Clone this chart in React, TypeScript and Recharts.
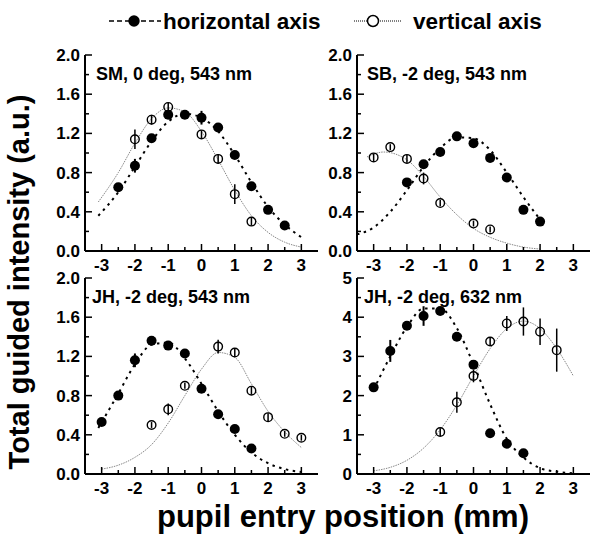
import { ComposedChart, Line, Scatter, XAxis, YAxis, ErrorBar } from "recharts";

type Pt = { x: number; y: number; e: number };
type FitPt = { x: number; y: number };

const X_TICKS = [-3, -2.5, -2, -1.5, -1, -0.5, 0, 0.5, 1, 1.5, 2, 2.5, 3];
const Y_TICKS_2 = [0, 0.2, 0.4, 0.6, 0.8, 1, 1.2, 1.4, 1.6, 1.8, 2];
const Y_TICKS_5 = [0, 0.5, 1, 1.5, 2, 2.5, 3, 3.5, 4, 4.5, 5];

const PANEL_TITLES = [
  "SM, 0 deg, 543 nm",
  "SB, -2 deg, 543 nm",
  "JH, -2 deg, 543 nm",
  "JH, -2 deg, 632 nm",
];

// SM, 0 deg, 543 nm
const smHoriz: Pt[] = [
  { x: -2.5, y: 0.65, e: 0.02 },
  { x: -2, y: 0.87, e: 0.07 },
  { x: -1.5, y: 1.15, e: 0.02 },
  { x: -1, y: 1.39, e: 0.02 },
  { x: -0.5, y: 1.39, e: 0.02 },
  { x: 0, y: 1.36, e: 0.07 },
  { x: 0.5, y: 1.26, e: 0.02 },
  { x: 1, y: 0.98, e: 0.02 },
  { x: 1.5, y: 0.66, e: 0.02 },
  { x: 2, y: 0.42, e: 0.02 },
  { x: 2.5, y: 0.26, e: 0.02 },
];
const smVert: Pt[] = [
  { x: -2, y: 1.14, e: 0.1 },
  { x: -1.5, y: 1.34, e: 0.05 },
  { x: -1, y: 1.47, e: 0.04 },
  { x: 0, y: 1.19, e: 0.04 },
  { x: 0.5, y: 0.94, e: 0.05 },
  { x: 1, y: 0.58, e: 0.1 },
  { x: 1.5, y: 0.3, e: 0.04 },
];
const smHorizFit: FitPt[] = [
  { x: -3.1, y: 0.36 }, { x: -2.5, y: 0.6 }, { x: -2, y: 0.86 }, { x: -1.5, y: 1.12 },
  { x: -1, y: 1.32 }, { x: -0.5, y: 1.4 }, { x: 0, y: 1.36 }, { x: 0.5, y: 1.22 },
  { x: 1, y: 0.98 }, { x: 1.5, y: 0.7 }, { x: 2, y: 0.45 }, { x: 2.5, y: 0.27 }, { x: 3, y: 0.14 },
];
const smVertFit: FitPt[] = [
  { x: -3.1, y: 0.5 }, { x: -2.5, y: 0.8 }, { x: -2, y: 1.1 }, { x: -1.5, y: 1.35 },
  { x: -1, y: 1.46 }, { x: -0.5, y: 1.42 }, { x: 0, y: 1.22 }, { x: 0.5, y: 0.93 },
  { x: 1, y: 0.62 }, { x: 1.5, y: 0.36 }, { x: 2, y: 0.19 }, { x: 2.5, y: 0.09 }, { x: 3, y: 0.04 },
];

// SB, -2 deg, 543 nm
const sbHoriz: Pt[] = [
  { x: -2, y: 0.7, e: 0.02 },
  { x: -1.5, y: 0.885, e: 0.02 },
  { x: -1, y: 1.01, e: 0.02 },
  { x: -0.5, y: 1.17, e: 0.02 },
  { x: 0, y: 1.1, e: 0.02 },
  { x: 0.5, y: 0.95, e: 0.02 },
  { x: 1, y: 0.75, e: 0.02 },
  { x: 1.5, y: 0.42, e: 0.02 },
  { x: 2, y: 0.3, e: 0.02 },
];
const sbVert: Pt[] = [
  { x: -3, y: 0.955, e: 0.04 },
  { x: -2.5, y: 1.06, e: 0.03 },
  { x: -2, y: 0.94, e: 0.04 },
  { x: -1.5, y: 0.74, e: 0.06 },
  { x: -1, y: 0.49, e: 0.03 },
  { x: 0, y: 0.28, e: 0.03 },
  { x: 0.5, y: 0.22, e: 0.03 },
];
const sbHorizFit: FitPt[] = [
  { x: -3.5, y: 0.17 }, { x: -3, y: 0.24 }, { x: -2.5, y: 0.4 }, { x: -2, y: 0.62 },
  { x: -1.5, y: 0.86 }, { x: -1, y: 1.05 }, { x: -0.5, y: 1.16 }, { x: 0, y: 1.15 },
  { x: 0.5, y: 1.03 }, { x: 1, y: 0.8 }, { x: 1.5, y: 0.55 }, { x: 2, y: 0.32 },
];
const sbVertFit: FitPt[] = [
  { x: -3.2, y: 0.96 }, { x: -2.7, y: 1.01 }, { x: -2, y: 0.93 }, { x: -1.5, y: 0.76 },
  { x: -1, y: 0.55 }, { x: -0.5, y: 0.37 }, { x: 0, y: 0.23 }, { x: 0.5, y: 0.14 },
  { x: 1, y: 0.08 }, { x: 1.5, y: 0.04 }, { x: 2, y: 0.02 },
];

// JH, -2 deg, 543 nm
const jh543Horiz: Pt[] = [
  { x: -3, y: 0.53, e: 0.02 },
  { x: -2.5, y: 0.8, e: 0.02 },
  { x: -2, y: 1.16, e: 0.07 },
  { x: -1.5, y: 1.36, e: 0.02 },
  { x: -1, y: 1.31, e: 0.02 },
  { x: -0.5, y: 1.23, e: 0.02 },
  { x: 0, y: 0.87, e: 0.02 },
  { x: 0.5, y: 0.61, e: 0.02 },
  { x: 1, y: 0.46, e: 0.02 },
  { x: 1.5, y: 0.26, e: 0.02 },
];
const jh543Vert: Pt[] = [
  { x: -1.5, y: 0.5, e: 0.03 },
  { x: -1, y: 0.66, e: 0.06 },
  { x: -0.5, y: 0.9, e: 0.03 },
  { x: 0.5, y: 1.3, e: 0.07 },
  { x: 1, y: 1.24, e: 0.04 },
  { x: 1.5, y: 0.85, e: 0.04 },
  { x: 2, y: 0.58, e: 0.04 },
  { x: 2.5, y: 0.41, e: 0.03 },
  { x: 3, y: 0.37, e: 0.03 },
];
const jh543HorizFit: FitPt[] = [
  { x: -3.1, y: 0.47 }, { x: -2.5, y: 0.82 }, { x: -2, y: 1.12 }, { x: -1.5, y: 1.32 },
  { x: -1, y: 1.34 }, { x: -0.5, y: 1.18 }, { x: 0, y: 0.92 }, { x: 0.5, y: 0.64 },
  { x: 1, y: 0.4 }, { x: 1.5, y: 0.22 }, { x: 2, y: 0.11 }, { x: 2.5, y: 0.05 }, { x: 3, y: 0.02 },
];
const jh543VertFit: FitPt[] = [
  { x: -3, y: 0.05 }, { x: -2.5, y: 0.09 }, { x: -2, y: 0.17 }, { x: -1.5, y: 0.3 },
  { x: -1, y: 0.52 }, { x: -0.5, y: 0.8 }, { x: 0, y: 1.07 }, { x: 0.5, y: 1.24 },
  { x: 1, y: 1.19 }, { x: 1.5, y: 0.92 }, { x: 2, y: 0.64 }, { x: 2.5, y: 0.43 }, { x: 3, y: 0.27 },
];

// JH, -2 deg, 632 nm
const jh632Horiz: Pt[] = [
  { x: -3, y: 2.21, e: 0.05 },
  { x: -2.5, y: 3.14, e: 0.28 },
  { x: -2, y: 3.78, e: 0.08 },
  { x: -1.5, y: 4.03, e: 0.25 },
  { x: -1, y: 4.16, e: 0.05 },
  { x: -0.5, y: 3.5, e: 0.05 },
  { x: 0, y: 2.79, e: 0.05 },
  { x: 0.5, y: 1.04, e: 0.05 },
  { x: 1, y: 0.77, e: 0.05 },
  { x: 1.5, y: 0.53, e: 0.05 },
];
const jh632Vert: Pt[] = [
  { x: -1, y: 1.07, e: 0.1 },
  { x: -0.5, y: 1.83, e: 0.27 },
  { x: 0, y: 2.5, e: 0.16 },
  { x: 0.5, y: 3.38, e: 0.1 },
  { x: 1, y: 3.84, e: 0.19 },
  { x: 1.5, y: 3.89, e: 0.36 },
  { x: 2, y: 3.63, e: 0.34 },
  { x: 2.5, y: 3.16, e: 0.55 },
];
const jh632HorizFit: FitPt[] = [
  { x: -3, y: 2.15 }, { x: -2.5, y: 3.0 }, { x: -2, y: 3.75 }, { x: -1.5, y: 4.22 },
  { x: -1, y: 4.22 }, { x: -0.5, y: 3.72 }, { x: 0, y: 2.8 }, { x: 0.5, y: 1.78 },
  { x: 1, y: 0.9 }, { x: 1.5, y: 0.42 }, { x: 2, y: 0.15 }, { x: 2.5, y: 0.06 }, { x: 3, y: 0.02 },
];
const jh632VertFit: FitPt[] = [
  { x: -3, y: 0.08 }, { x: -2.5, y: 0.17 }, { x: -2, y: 0.35 }, { x: -1.5, y: 0.66 },
  { x: -1, y: 1.13 }, { x: -0.5, y: 1.76 }, { x: 0, y: 2.5 }, { x: 0.5, y: 3.2 },
  { x: 1, y: 3.71 }, { x: 1.5, y: 3.9 }, { x: 2, y: 3.71 }, { x: 2.5, y: 3.2 }, { x: 3, y: 2.5 },
];

const FONT = "'Liberation Sans', Arial, Helvetica, sans-serif";
const BOX_W = 233;
const BOX_H = 196;
const AXIS_W = 50;
const PAD = 10;

const isMultiple = (v: number, step: number) =>
  Math.abs(v / step - Math.round(v / step)) < 1e-6;

function BottomTick(props: any) {
  const { x, y, payload } = props;
  const v = payload.value;
  const major = isMultiple(v, 1);
  return (
    <g>
      <line x1={x} x2={x} y1={y} y2={y - (major ? 7 : 4)} stroke="#000" strokeWidth={1.5} />
      {major && (
        <text x={x} y={y + 20} textAnchor="middle" fontSize={17} fontWeight="bold" fill="#000">
          {v}
        </text>
      )}
    </g>
  );
}

function TopTick(props: any) {
  const { x, y, payload } = props;
  const major = isMultiple(payload.value, 1);
  return <line x1={x} x2={x} y1={y} y2={y + (major ? 7 : 4)} stroke="#000" strokeWidth={1.5} />;
}

function LeftTick(props: any) {
  const { x, y, payload, step, digits } = props;
  const v = payload.value;
  const major = isMultiple(v, step);
  return (
    <g>
      <line x1={x} x2={x + (major ? 7 : 4)} y1={y} y2={y} stroke="#000" strokeWidth={1.5} />
      {major && (
        <text x={x - 5} y={y + 6} textAnchor="end" fontSize={17} fontWeight="bold" fill="#000">
          {v.toFixed(digits)}
        </text>
      )}
    </g>
  );
}

function RightTick(props: any) {
  const { x, y, payload, step } = props;
  const major = isMultiple(payload.value, step);
  return <line x1={x} x2={x - (major ? 7 : 4)} y1={y} y2={y} stroke="#000" strokeWidth={1.5} />;
}

const FilledDot = (p: any) => <circle cx={p.cx} cy={p.cy} r={5} fill="#000" />;
const OpenDot = (p: any) => (
  <circle cx={p.cx} cy={p.cy} r={4.3} fill="none" stroke="#000" strokeWidth={1.4} />
);

interface PanelProps {
  left: number;
  top: number;
  title: string;
  titleDx: number;
  yMax: number;
  yTicks: number[];
  labelStep: number;
  digits: number;
  horiz: Pt[];
  vert: Pt[];
  horizFit: FitPt[];
  vertFit: FitPt[];
}

function Panel(p: PanelProps) {
  const axisLine = { stroke: "#000", strokeWidth: 2 };
  return (
    <div style={{ position: "absolute", left: p.left - AXIS_W, top: p.top - PAD }}>
      <ComposedChart
        width={AXIS_W + BOX_W + PAD}
        height={PAD + BOX_H + 30}
        margin={{ top: PAD, right: PAD, bottom: 0, left: 0 }}
      >
        <XAxis
          dataKey="x"
          type="number"
          domain={[-3.5, 3.5]}
          allowDataOverflow
          ticks={X_TICKS}
          interval={0}
          height={30}
          tickSize={0}
          tickMargin={0}
          tickLine={false}
          axisLine={axisLine}
          tick={(t: any) => <BottomTick {...t} />}
        />
        <XAxis
          xAxisId="top"
          orientation="top"
          dataKey="x"
          type="number"
          domain={[-3.5, 3.5]}
          allowDataOverflow
          ticks={X_TICKS}
          interval={0}
          height={0}
          tickSize={0}
          tickMargin={0}
          tickLine={false}
          axisLine={axisLine}
          tick={(t: any) => <TopTick {...t} />}
        />
        <YAxis
          dataKey="y"
          type="number"
          domain={[0, p.yMax]}
          allowDataOverflow
          ticks={p.yTicks}
          interval={0}
          width={AXIS_W}
          tickSize={0}
          tickMargin={0}
          tickLine={false}
          axisLine={axisLine}
          tick={(t: any) => <LeftTick {...t} step={p.labelStep} digits={p.digits} />}
        />
        <YAxis
          yAxisId="right"
          orientation="right"
          dataKey="y"
          type="number"
          domain={[0, p.yMax]}
          allowDataOverflow
          ticks={p.yTicks}
          interval={0}
          width={0}
          tickSize={0}
          tickMargin={0}
          tickLine={false}
          axisLine={axisLine}
          tick={(t: any) => <RightTick {...t} step={p.labelStep} />}
        />
        <Line
          data={p.vertFit}
          dataKey="y"
          type="monotone"
          stroke="#888"
          strokeWidth={1}
          strokeDasharray="1.5 1"
          dot={false}
          activeDot={false}
          isAnimationActive={false}
        />
        <Line
          data={p.horizFit}
          dataKey="y"
          type="monotone"
          stroke="#000"
          strokeWidth={2}
          strokeDasharray="2.5 4.5"
          dot={false}
          activeDot={false}
          isAnimationActive={false}
        />
        <Scatter data={p.vert} shape={OpenDot} isAnimationActive={false}>
          <ErrorBar dataKey="e" direction="y" width={0} stroke="#000" strokeWidth={1.5} isAnimationActive={false} />
        </Scatter>
        <Scatter data={p.horiz} shape={FilledDot} isAnimationActive={false}>
          <ErrorBar dataKey="e" direction="y" width={0} stroke="#000" strokeWidth={2} isAnimationActive={false} />
        </Scatter>
      </ComposedChart>
    </div>
  );
}

const PANELS: PanelProps[] = [
  {
    left: 85, top: 55, title: PANEL_TITLES[0], titleDx: 11, yMax: 2, yTicks: Y_TICKS_2,
    labelStep: 0.4, digits: 1, horiz: smHoriz, vert: smVert, horizFit: smHorizFit, vertFit: smVertFit,
  },
  {
    left: 357, top: 55, title: PANEL_TITLES[1], titleDx: 10, yMax: 2, yTicks: Y_TICKS_2,
    labelStep: 0.4, digits: 1, horiz: sbHoriz, vert: sbVert, horizFit: sbHorizFit, vertFit: sbVertFit,
  },
  {
    left: 85, top: 278, title: PANEL_TITLES[2], titleDx: 7, yMax: 2, yTicks: Y_TICKS_2,
    labelStep: 0.4, digits: 1, horiz: jh543Horiz, vert: jh543Vert, horizFit: jh543HorizFit, vertFit: jh543VertFit,
  },
  {
    left: 357, top: 278, title: PANEL_TITLES[3], titleDx: 7, yMax: 5, yTicks: Y_TICKS_5,
    labelStep: 1, digits: 0, horiz: jh632Horiz, vert: jh632Vert, horizFit: jh632HorizFit, vertFit: jh632VertFit,
  },
];

export default function App() {
  return (
    <div
      style={{
        position: "absolute",
        left: 0,
        top: 0,
        width: 600,
        height: 537,
        background: "#fff",
        fontFamily: FONT,
        overflow: "hidden",
      }}
    >
      {PANELS.map((p) => (
        <Panel key={p.title} {...p} />
      ))}
      <svg
        width={600}
        height={537}
        style={{ position: "absolute", left: 0, top: 0, pointerEvents: "none" }}
        fontFamily={FONT}
        fontWeight="bold"
      >
        {/* legend */}
        <line x1={109} x2={161} y1={21} y2={21} stroke="#000" strokeWidth={1.5} strokeDasharray="5 3" />
        <circle cx={134} cy={21} r={5.7} fill="#000" />
        <text x={163} y={29} fontSize={22.5}>horizontal axis</text>
        <line x1={354} x2={402} y1={21} y2={21} stroke="#000" strokeWidth={1} strokeDasharray="1 1" />
        <circle cx={373} cy={21} r={5.5} fill="#fff" stroke="#000" strokeWidth={1.5} />
        <text x={413} y={29} fontSize={22.5}>vertical axis</text>

        {PANELS.map((p) => (
          <text key={p.title} x={p.left + p.titleDx} y={p.top + 25} fontSize={18}>
            {p.title}
          </text>
        ))}

        <text transform="translate(29,282) rotate(-90)" textAnchor="middle" fontSize={29}>
          Total guided intensity (a.u.)
        </text>
        <text x={343} y={527} textAnchor="middle" fontSize={31}>
          pupil entry position (mm)
        </text>
      </svg>
    </div>
  );
}
